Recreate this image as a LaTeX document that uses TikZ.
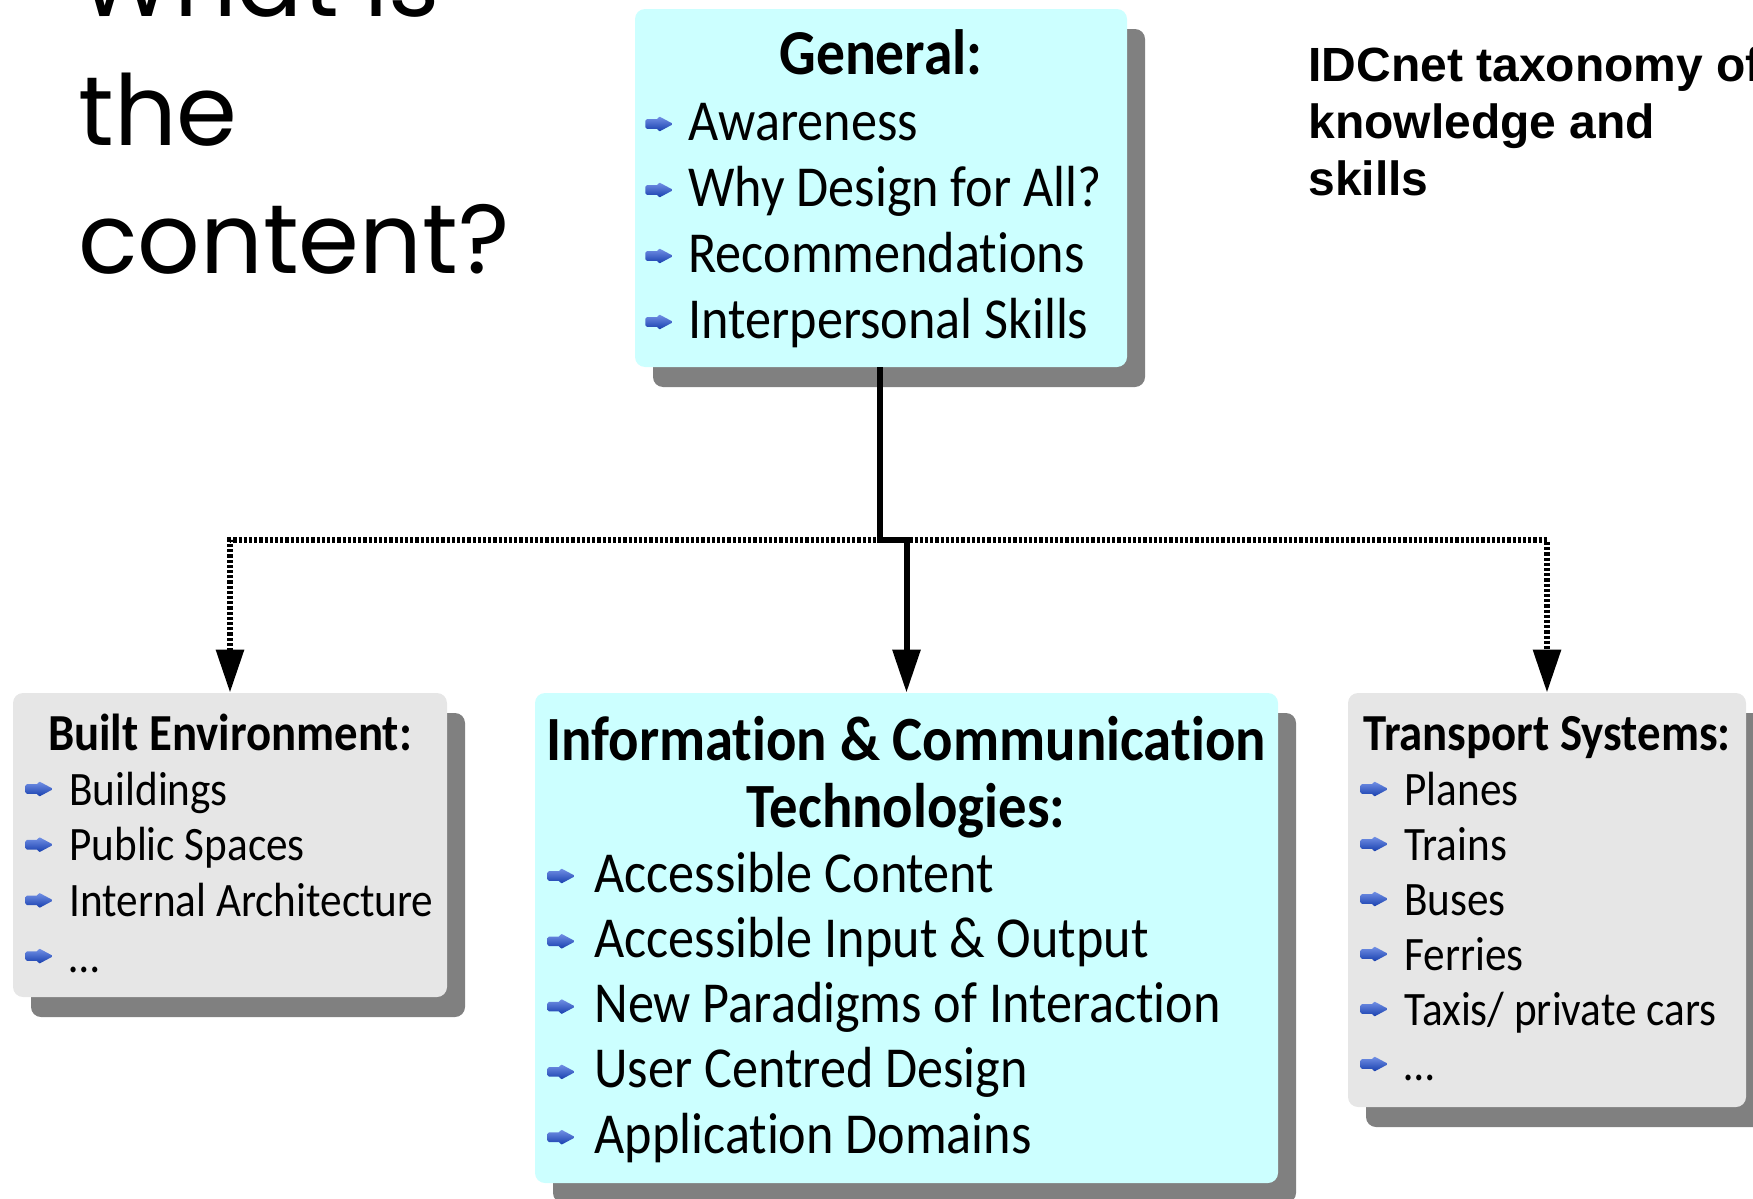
\documentclass[tikz,border=0pt]{standalone}
\usepackage{fontspec}
\setmainfont[FakeStretch=0.9,Ligatures=NoCommon]{Carlito}
\newfontfamily\titlefont{Poppins}
\newfontfamily\notefont{Liberation Sans}
\usetikzlibrary{shadows}
\usetikzlibrary{fit}
\usetikzlibrary{arrows.meta}

\definecolor{boxcyan}{RGB}{204,255,255}
\definecolor{boxgray}{RGB}{230,230,230}
\definecolor{shadowgray}{RGB}{128,128,128}
\definecolor{bulblue}{RGB}{25,75,215}

% small blue arrow used as list bullet
\newcommand\bul{\tikz[baseline=0pt,x=1pt,y=1pt]
    \shade[top color=bulblue!60!white,bottom color=bulblue!80!black,rounded corners=0.8pt]
    (0,5.6)--(6.5,5.6)--(6.5,4)--(14,8)--(6.5,12)--(6.5,10.4)--(0,10.4)--cycle;}

\tikzset{
    topicbox/.style={rounded corners=5pt,inner sep=0pt,
        drop shadow={shadow xshift=9pt,shadow yshift=-10pt,
            fill=shadowgray,opacity=1}},
    cyanbox/.style={topicbox,fill=boxcyan},
    graybox/.style={topicbox,fill=boxgray},
    bighead/.style={anchor=base,inner sep=0pt,
        font=\fontsize{31.5pt}{36pt}\selectfont\bfseries},
    smallhead/.style={anchor=base,inner sep=0pt,
        font=\fontsize{26pt}{30pt}\selectfont\bfseries},
    bigitem/.style={anchor=base west,inner sep=0pt,
        font=\fontsize{29pt}{33pt}\selectfont},
    smallitem/.style={anchor=base west,inner sep=0pt,
        font=\fontsize{24pt}{28pt}\selectfont},
    titletext/.style={anchor=base west,inner sep=0pt,
        font=\fontsize{49pt}{64pt}\titlefont},
    notetext/.style={anchor=base west,inner sep=0pt,
        font=\fontsize{24pt}{28.5pt}\notefont\bfseries},
    mainline/.style={line width=3pt,
        -{Triangle[width=13.5pt,length=21.5pt]}},
    dotline/.style={line width=3pt,dash pattern=on 1.6pt off 1pt,
        {Triangle[width=13.5pt,length=21.5pt]}-{Triangle[width=13.5pt,length=21.5pt]}}
}

\begin{document}
\begin{tikzpicture}[x=0.5pt,y=-0.5pt]
    \useasboundingbox (0,0) rectangle (1753,1199);
    \clip (0,0) rectangle (1753,1199);

    % slide title and note
    \foreach \w [count=\i] in {What is, the, content?}
        \node[titletext] (quest\i) at (78,{17+128*(\i-1)}) {\w};
    \foreach \w [count=\i] in {IDCnet taxonomy of, knowledge and, skills}
        \node[notetext] (note\i) at (1308,{82+56.5*(\i-1)}) {\w};

    % boxes
    \node[cyanbox,fit={(635,9) (1127,367)}] (general) {};
    \node[graybox,fit={(13,693) (447,997)}] (built) {};
    \node[cyanbox,fit={(535,693) (1278,1183)}] (ict) {};
    \node[graybox,fit={(1348,693) (1746,1107)}] (transport) {};

    % General
    \node[bighead,font=\fontsize{32pt}{36pt}\selectfont\bfseries]
        (genhead) at (881,75) {General:};
    \foreach \txt [count=\i] in {Awareness, Why Design for All?,
            Recommendations, Interpersonal Skills}
        \node[bigitem] (gen\i) at (645,{140+66*(\i-1)}) {\bul\hspace{7.5pt}\txt};

    % Built Environment
    \node[smallhead] (builthead) at (230,750) {Built Environment:};
    \foreach \txt [count=\i] in {Buildings, Public Spaces,
            Internal Architecture, \ldots}
        \node[smallitem] (built\i) at (25,{805+55.7*(\i-1)}) {\bul\hspace{8pt}\txt};

    % Information & Communication Technologies
    \node[bighead] (icthead1) at (906,760) {Information \& Communication};
    \node[bighead] (icthead2) at (906,827) {Technologies:};
    \foreach \txt [count=\i] in {Accessible Content, Accessible Input \& Output,
            New Paradigms of Interaction, User Centred Design,
            Application Domains}
        \node[bigitem] (ict\i) at (547,{892+65.3*(\i-1)}) {\bul\hspace{9.5pt}\txt};

    % Transport Systems
    \node[smallhead] (transhead) at (1547,750) {Transport Systems:};
    \foreach \txt [count=\i] in {Planes, Trains, Buses, Ferries,
            Taxis/ private cars, \ldots}
        \node[smallitem] (trans\i) at (1360,{805+55*(\i-1)}) {\bul\hspace{8pt}\txt};

    % connectors
    \coordinate (split) at (880,540);
    \draw[dotline] (built.north) |- (split) -| (transport.north);
    \draw[mainline] (general.south -| split) -- (split) -| (ict.north);
\end{tikzpicture}
\end{document}
